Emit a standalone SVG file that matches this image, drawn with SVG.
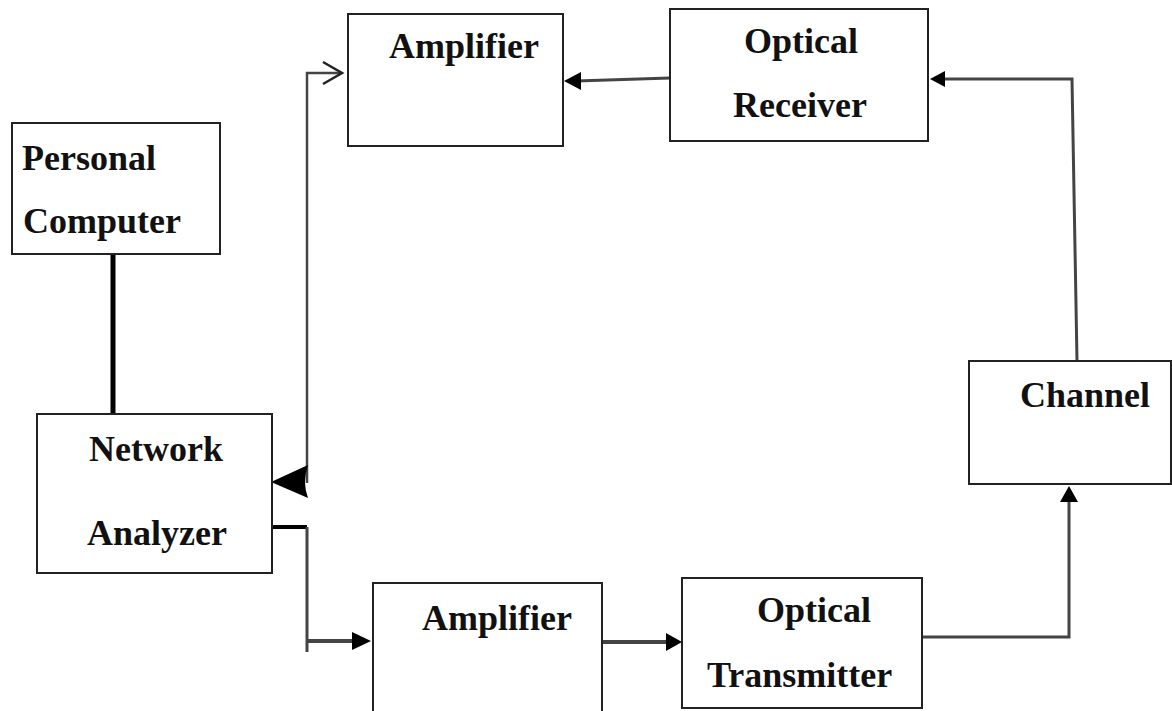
<svg xmlns="http://www.w3.org/2000/svg" width="1172" height="711" viewBox="0 0 1172 711">
<style>
.box{fill:#fff;stroke:#222;stroke-width:2}
.lbl{font-family:"Liberation Serif","Times New Roman",serif;font-weight:bold;font-size:36px;fill:#111}
.conn{fill:none;stroke:#444;stroke-width:3}
.head{fill:#000;stroke:none}
</style>
<rect width="1172" height="711" fill="#fff"/>
<g id="connectors">
  <line x1="113" y1="254" x2="113" y2="414" stroke="#000" stroke-width="5"/>
  <polyline class="conn" points="307,483 307,73 341,73" style="stroke-width:2.5"/>
  <polyline class="conn" points="323,62 342,73 323,84" style="stroke:#222;stroke-width:2.5"/>
  <path class="head" d="M271,482 L308,465 Q302,482 308,498 Z"/>
  <polyline class="conn" points="273,527 307,527" style="stroke:#000;stroke-width:4"/>
  <polyline class="conn" points="307,527 307,652"/>
  <line class="conn" x1="307" y1="641" x2="356" y2="641" style="stroke-width:4"/>
  <path class="head" d="M371,641 L352,632 L352,650 Z"/>
  <line class="conn" x1="670" y1="78" x2="576" y2="81"/>
  <path class="head" d="M564,81 L581,72 L581,90 Z"/>
  <polyline class="conn" points="1077,361 1072,79 940,79"/>
  <path class="head" d="M930,79 L945,71 L945,87 Z"/>
  <polyline class="conn" points="922,637 1069,637 1069,498"/>
  <path class="head" d="M1069,486 L1060,502 L1078,502 Z"/>
  <line class="conn" x1="602" y1="642" x2="670" y2="642" style="stroke-width:4"/>
  <path class="head" d="M682,642 L666,633 L666,651 Z"/>
</g>
<g id="personal-computer">
  <rect class="box" x="12" y="123" width="208" height="131"/>
  <text class="lbl" x="22" y="170">Personal</text>
  <text class="lbl" x="23" y="233">Computer</text>
</g>
<g id="network-analyzer">
  <rect class="box" x="37" y="414" width="235" height="159"/>
  <text class="lbl" x="89" y="461">Network</text>
  <text class="lbl" x="87" y="545">Analyzer</text>
</g>
<g id="amplifier-top">
  <rect class="box" x="348" y="14" width="215" height="132"/>
  <text class="lbl" x="389" y="58">Amplifier</text>
</g>
<g id="optical-receiver">
  <rect class="box" x="670" y="9" width="258" height="132"/>
  <text class="lbl" x="744" y="53">Optical</text>
  <text class="lbl" x="733" y="117">Receiver</text>
</g>
<g id="channel">
  <rect class="box" x="969" y="361" width="202" height="123"/>
  <text class="lbl" x="1020" y="407">Channel</text>
</g>
<g id="amplifier-bottom">
  <rect class="box" x="373" y="583" width="229" height="140"/>
  <text class="lbl" x="422" y="630">Amplifier</text>
</g>
<g id="optical-transmitter">
  <rect class="box" x="682" y="578" width="240" height="130"/>
  <text class="lbl" x="757" y="622">Optical</text>
  <text class="lbl" x="707" y="687">Transmitter</text>
</g>
</svg>
